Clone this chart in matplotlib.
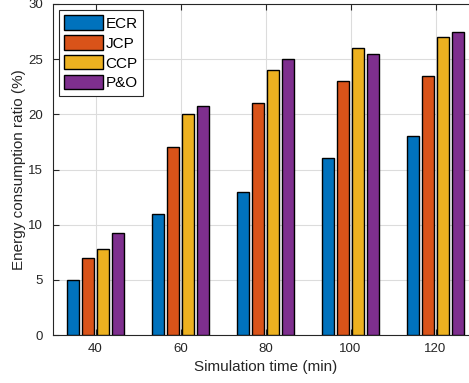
import numpy as np
import matplotlib.pyplot as plt

plt.rcParams['font.family'] = ['Liberation Sans', 'DejaVu Sans']

times = ['40', '60', '80', '100', '120']
methods = ['ECR', 'JCP', 'CCP', 'P&O']
ecr = [5, 11, 13, 16, 18]
jcp = [7, 17, 21, 23, 23.5]
ccp = [7.8, 20, 24, 26, 27]
pando = [9.2, 20.8, 25, 25.5, 27.5]
colors = ['#0072BD', '#D95319', '#EDB120', '#7E2F8E']

fig = plt.figure(figsize=(4.69, 3.83), dpi=100)
ax = fig.add_axes([53 / 469, 48 / 383, 425 / 469, 331 / 383])

x = np.arange(1, len(times) + 1)
step = 0.179
width = 0.141
for i, (vals, name) in enumerate(zip([ecr, jcp, ccp, pando], methods)):
    ax.bar(x + (i - 1.5) * step, vals, width, color=colors[i], edgecolor='black',
           linewidth=1, label=name, zorder=3)

ax.set_xlim(0.5, 5.5)
ax.set_ylim(0, 30)
ax.set_xticks(x)
ax.set_xticklabels(times)
ax.set_yticks(np.arange(0, 31, 5))
ax.tick_params(direction='in', top=True, right=True, labelsize=9.5, colors='#262626',
               length=4, width=0.8)
ax.tick_params(axis='x', pad=6)
ax.tick_params(axis='y', pad=7)
ax.grid(True, color='#dcdcdc', linewidth=0.8, zorder=0)
ax.set_axisbelow(True)
for s in ax.spines.values():
    s.set_color('#262626')
    s.set_linewidth(0.8)

ax.set_xlabel('Simulation time (min)', fontsize=11, color='#262626', labelpad=3)
ax.set_ylabel('Energy consumption ratio (%)', fontsize=11, color='#262626', labelpad=2)

leg = ax.legend(loc='upper left', fontsize=11, handlelength=2.5, handleheight=1.05,
                labelspacing=0.3, handletextpad=0.2, borderpad=0.35,
                borderaxespad=0.4, fancybox=False, framealpha=1)
leg.get_frame().set_edgecolor('#262626')
leg.get_frame().set_linewidth(0.8)

fig.savefig('out.png', dpi=100)
